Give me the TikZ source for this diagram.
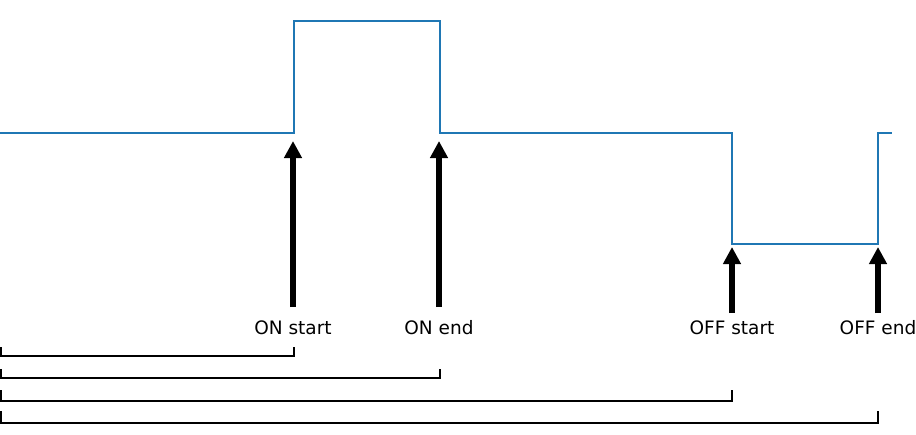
\documentclass[tikz,border=0pt]{standalone}
\usepackage{fontspec}
\setmainfont{DejaVu Sans}
\usetikzlibrary{arrows.meta}
\definecolor{sigblue}{HTML}{1F77B4}
\tikzset{
  signal/.style={draw=sigblue, line width=1.8pt},
  evarrow/.style={line width=6pt, -{Triangle[width=17pt,length=17pt]}},
  lbl/.style={font=\fontsize{18.5}{22}\selectfont, inner sep=0pt, anchor=center},
  bracketline/.style={line width=2.2pt, line cap=rect}
}
\begin{document}
\begin{tikzpicture}[x=1pt,y=-1pt]
\useasboundingbox (0,0) rectangle (916,434);
% signal
\coordinate (s0) at (0,133);
\coordinate (s1) at (294,133);
\coordinate (s2) at (294,21);
\coordinate (s3) at (440,21);
\coordinate (s4) at (440,133);
\coordinate (s5) at (732,133);
\coordinate (s6) at (732,244);
\coordinate (s7) at (878,244);
\coordinate (s8) at (878,133);
\coordinate (s9) at (892,133);
\draw[signal] (s0) -- (s1) -- (s2) -- (s3) -- (s4) -- (s5) -- (s6) -- (s7) -- (s8) -- (s9);
% labels
\node[lbl] (onstart) at (293,328) {ON start};
\node[lbl] (onend) at (439,328) {ON end};
\node[lbl] (offstart) at (732,328) {OFF start};
\node[lbl] (offend) at (878,328) {OFF end};
% arrows
\coordinate (a1b) at (293,307); \coordinate (a1t) at (293,141);
\coordinate (a2b) at (439,307); \coordinate (a2t) at (439,141);
\coordinate (a3b) at (732,313); \coordinate (a3t) at (732,247);
\coordinate (a4b) at (878,313); \coordinate (a4t) at (878,247);
\draw[evarrow] (a1b) -- (a1t);
\draw[evarrow] (a2b) -- (a2t);
\draw[evarrow] (a3b) -- (a3t);
\draw[evarrow] (a4b) -- (a4t);
% brackets
\coordinate (b1l) at (1,348); \coordinate (b1r) at (294,348);
\coordinate (b2l) at (1,370); \coordinate (b2r) at (440,370);
\coordinate (b3l) at (1,391); \coordinate (b3r) at (732,391);
\coordinate (b4l) at (1,412); \coordinate (b4r) at (878,412);
\draw[bracketline] (b1l) -- ++(0,8) -| (b1r);
\draw[bracketline] (b2l) -- ++(0,8) -| (b2r);
\draw[bracketline] (b3l) -- ++(0,10) -| (b3r);
\draw[bracketline] (b4l) -- ++(0,11) -| (b4r);
\end{tikzpicture}
\end{document}
